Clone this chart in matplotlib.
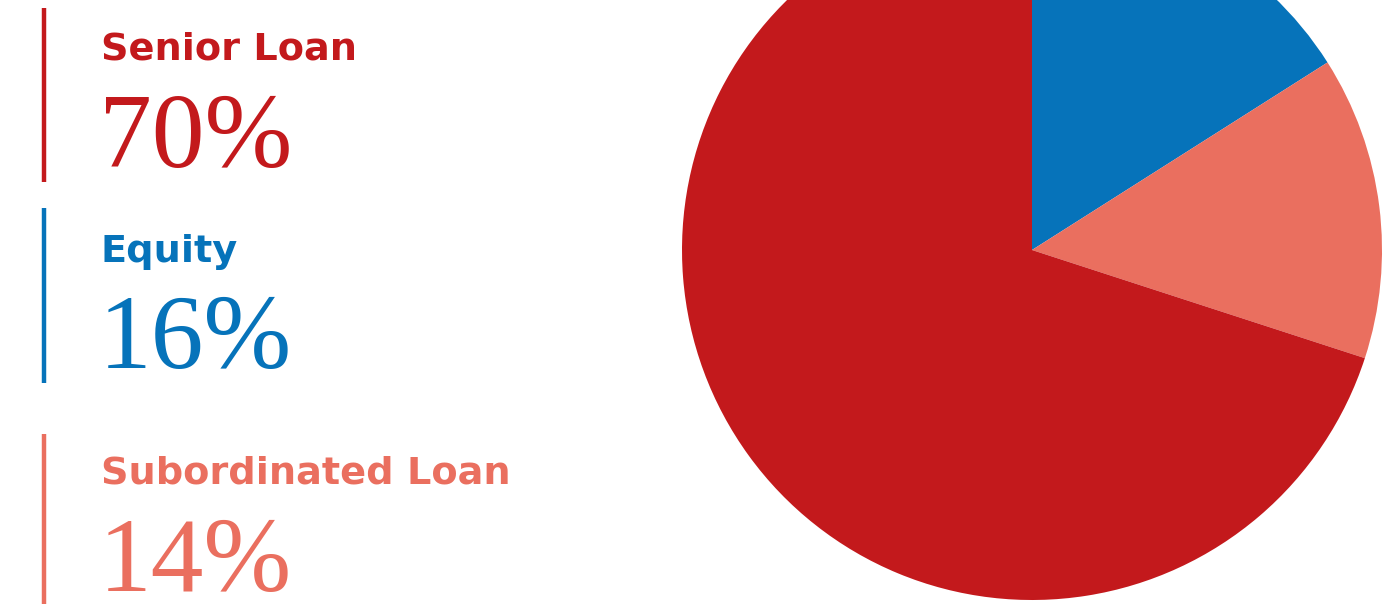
import matplotlib
matplotlib.use("Agg")
import matplotlib.pyplot as plt

# funding mix
labels = ["Senior Loan", "Equity", "Subordinated Loan"]
shares = [70, 16, 14]
colors = ["#C3191C", "#0673BA", "#EA6F5F"]

# pie order: clockwise from 12 o'clock
pie_order = [1, 2, 0]

W, H = 1398, 604
fig = plt.figure(figsize=(W / 100, H / 100), dpi=100)
ax = fig.add_axes([0, 0, 1, 1])

ax.pie([shares[i] for i in pie_order],
       colors=[colors[i] for i in pie_order],
       startangle=90, counterclock=False,
       center=(1032, H - 250), radius=350,
       wedgeprops=dict(linewidth=0))
ax.set_xlim(0, W)
ax.set_ylim(0, H)
ax.set_aspect("equal")
ax.axis("off")

# left legend blocks: bar, name, percentage
bar_spans = [(8, 182), (208, 383), (434, 604)]
name_base = [59, 262, 483]
pct_base = [167, 368, 591]
for i, lab in enumerate(labels):
    y0, y1 = bar_spans[i]
    ax.plot([44, 44], [H - y0, H - y1], color=colors[i], lw=3.2,
            solid_capstyle="butt")
    ax.text(101, H - name_base[i], lab, color=colors[i], fontsize=27.5,
            family="DejaVu Sans", fontweight="bold", va="baseline", ha="left")
    ax.text(99, H - pct_base[i], f"{shares[i]}%", color=colors[i],
            fontsize=76, family="Liberation Serif", va="baseline", ha="left")

fig.savefig("out.png", dpi=100)
